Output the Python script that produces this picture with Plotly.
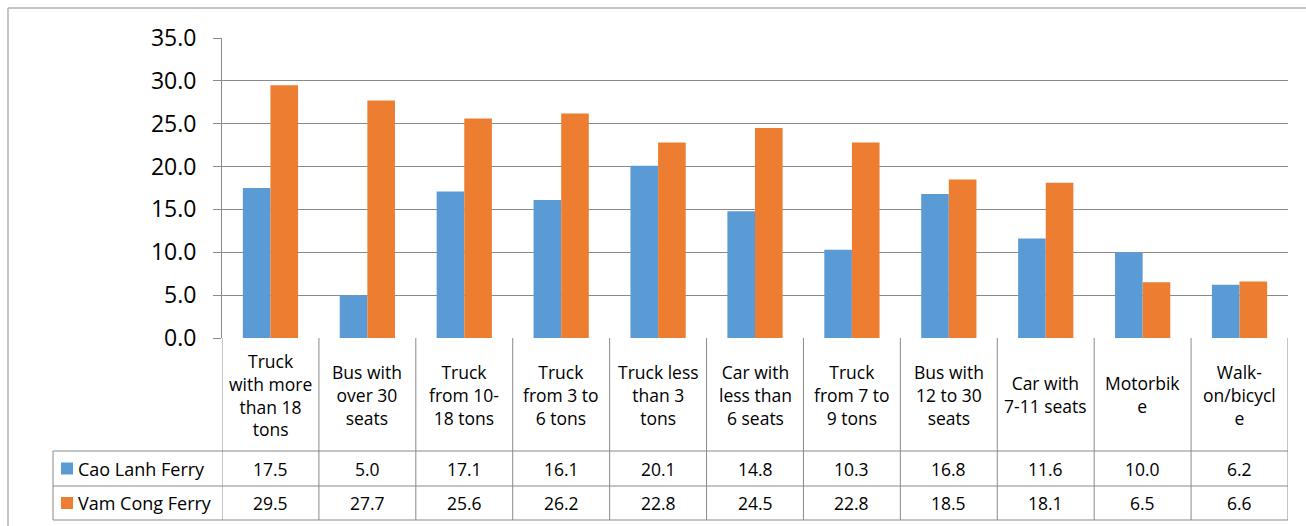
import plotly.graph_objects as go

# Data
categories = [
    "Truck with more than 18 tons", "Bus with over 30 seats", "Truck from 10-18 tons",
    "Truck from 3 to 6 tons", "Truck less than 3 tons", "Car with less than 6 seats",
    "Truck from 7 to 9 tons", "Bus with 12 to 30 seats", "Car with 7-11 seats",
    "Motorbike", "Walk-on/bicycle",
]
header_labels = [
    "Truck<br>with more<br>than 18<br>tons", "Bus with<br>over 30<br>seats", "Truck<br>from 10-<br>18 tons",
    "Truck<br>from 3 to<br>6 tons", "Truck less<br>than 3<br>tons", "Car with<br>less than<br>6 seats",
    "Truck<br>from 7 to<br>9 tons", "Bus with<br>12 to 30<br>seats", "Car with<br>7-11 seats",
    "Motorbik<br>e", "Walk-<br>on/bicycl<br>e",
]
series_names = ["Cao Lanh Ferry", "Vam Cong Ferry"]
cao_lanh = [17.5, 5.0, 17.1, 16.1, 20.1, 14.8, 10.3, 16.8, 11.6, 10.0, 6.2]
vam_cong = [29.5, 27.7, 25.6, 26.2, 22.8, 24.5, 22.8, 18.5, 18.1, 6.5, 6.6]
y_ticks = [0, 5, 10, 15, 20, 25, 30, 35]

colors = ["#5B9BD5", "#ED7D31"]
FONT = "Open Sans"
W, H = 1306, 526
GRID = "#8A8A8A"
BORDER = "#B0B0B0"
TXT = 17.5


def py(y):
    return 1 - y / H


def px(x):
    return x / W


plot_left, plot_right = 222, 1288
plot_top, plot_bottom = 38, 338
row1_top, row2_top, table_bottom = 451, 486, 520
legend_left = 53

fig = go.Figure()
for name, vals, col in zip(series_names, [cao_lanh, vam_cong], colors):
    fig.add_trace(go.Bar(
        x=categories, y=vals, name=name, marker=dict(color=col, line=dict(width=0)),
        showlegend=False,
    ))

shapes = []
annotations = []

# outer chart border
shapes.append(dict(type="line", xref="paper", yref="paper", x0=px(8), x1=1, y0=py(8), y1=py(8),
                   line=dict(color=BORDER, width=1.5)))
shapes.append(dict(type="line", xref="paper", yref="paper", x0=px(8), x1=px(8), y0=py(8), y1=0,
                   line=dict(color=BORDER, width=1.5)))

# data table: horizontal rules
for yy in [row1_top, row2_top, table_bottom]:
    shapes.append(dict(type="line", xref="paper", yref="paper", x0=px(legend_left), x1=px(plot_right),
                       y0=py(yy), y1=py(yy), line=dict(color=GRID, width=1)))
# legend column left edge
shapes.append(dict(type="line", xref="paper", yref="paper", x0=px(legend_left), x1=px(legend_left),
                   y0=py(row1_top), y1=py(table_bottom), line=dict(color=GRID, width=1)))
# column separators on the category scale
for k in range(len(categories) + 1):
    shapes.append(dict(type="line", xref="x", yref="paper", x0=k - 0.5, x1=k - 0.5,
                       y0=py(plot_bottom), y1=py(table_bottom), line=dict(color=GRID, width=1)))

header_mid = (plot_bottom + row1_top) / 2
row_mids = [(row1_top + row2_top) / 2, (row2_top + table_bottom) / 2]

for cat, lab in zip(categories, header_labels):
    annotations.append(dict(xref="x", yref="paper", x=cat, y=py(header_mid), text=lab,
                            showarrow=False, xanchor="center", yanchor="middle",
                            font=dict(family=FONT, size=TXT, color="#000000")))

for r, (name, vals, col) in enumerate(zip(series_names, [cao_lanh, vam_cong], colors)):
    ym = row_mids[r]
    for cat, v in zip(categories, vals):
        annotations.append(dict(xref="x", yref="paper", x=cat, y=py(ym), text=f"{v:.1f}",
                                showarrow=False, xanchor="center", yanchor="middle",
                                font=dict(family=FONT, size=TXT, color="#000000")))
    # legend key and series name
    shapes.append(dict(type="rect", xref="paper", yref="paper", x0=px(61), x1=px(73),
                       y0=py(ym + 6), y1=py(ym - 6), fillcolor=col, line=dict(width=0)))
    annotations.append(dict(xref="paper", yref="paper", x=px(76), y=py(ym), text=name,
                            showarrow=False, xanchor="left", yanchor="middle",
                            font=dict(family=FONT, size=18, color="#000000")))

fig.update_layout(
    width=W, height=H,
    margin=dict(l=0, r=0, t=0, b=0, pad=0, autoexpand=False),
    paper_bgcolor="white", plot_bgcolor="white",
    barmode="group", bargap=0.43, bargroupgap=0,
    shapes=shapes, annotations=annotations,
    xaxis=dict(domain=[px(plot_left), px(plot_right)], range=[-0.5, len(categories) - 0.5],
               showticklabels=False, showgrid=False, zeroline=False, showline=False, ticks="",
               automargin=False),
    yaxis=dict(domain=[py(plot_bottom), py(plot_top)], range=[0, 35], tickvals=y_ticks,
               ticktext=[f"{t:.1f}" for t in y_ticks], automargin=False,
               showgrid=True, gridcolor=GRID, gridwidth=1, zeroline=False,
               showline=True, linecolor=GRID, linewidth=1,
               ticks="outside", ticklen=8, tickcolor=GRID, ticklabelstandoff=12,
               tickfont=dict(family=FONT, size=23, color="#000000")),
    font=dict(family=FONT),
)

fig.write_html("out.html")
